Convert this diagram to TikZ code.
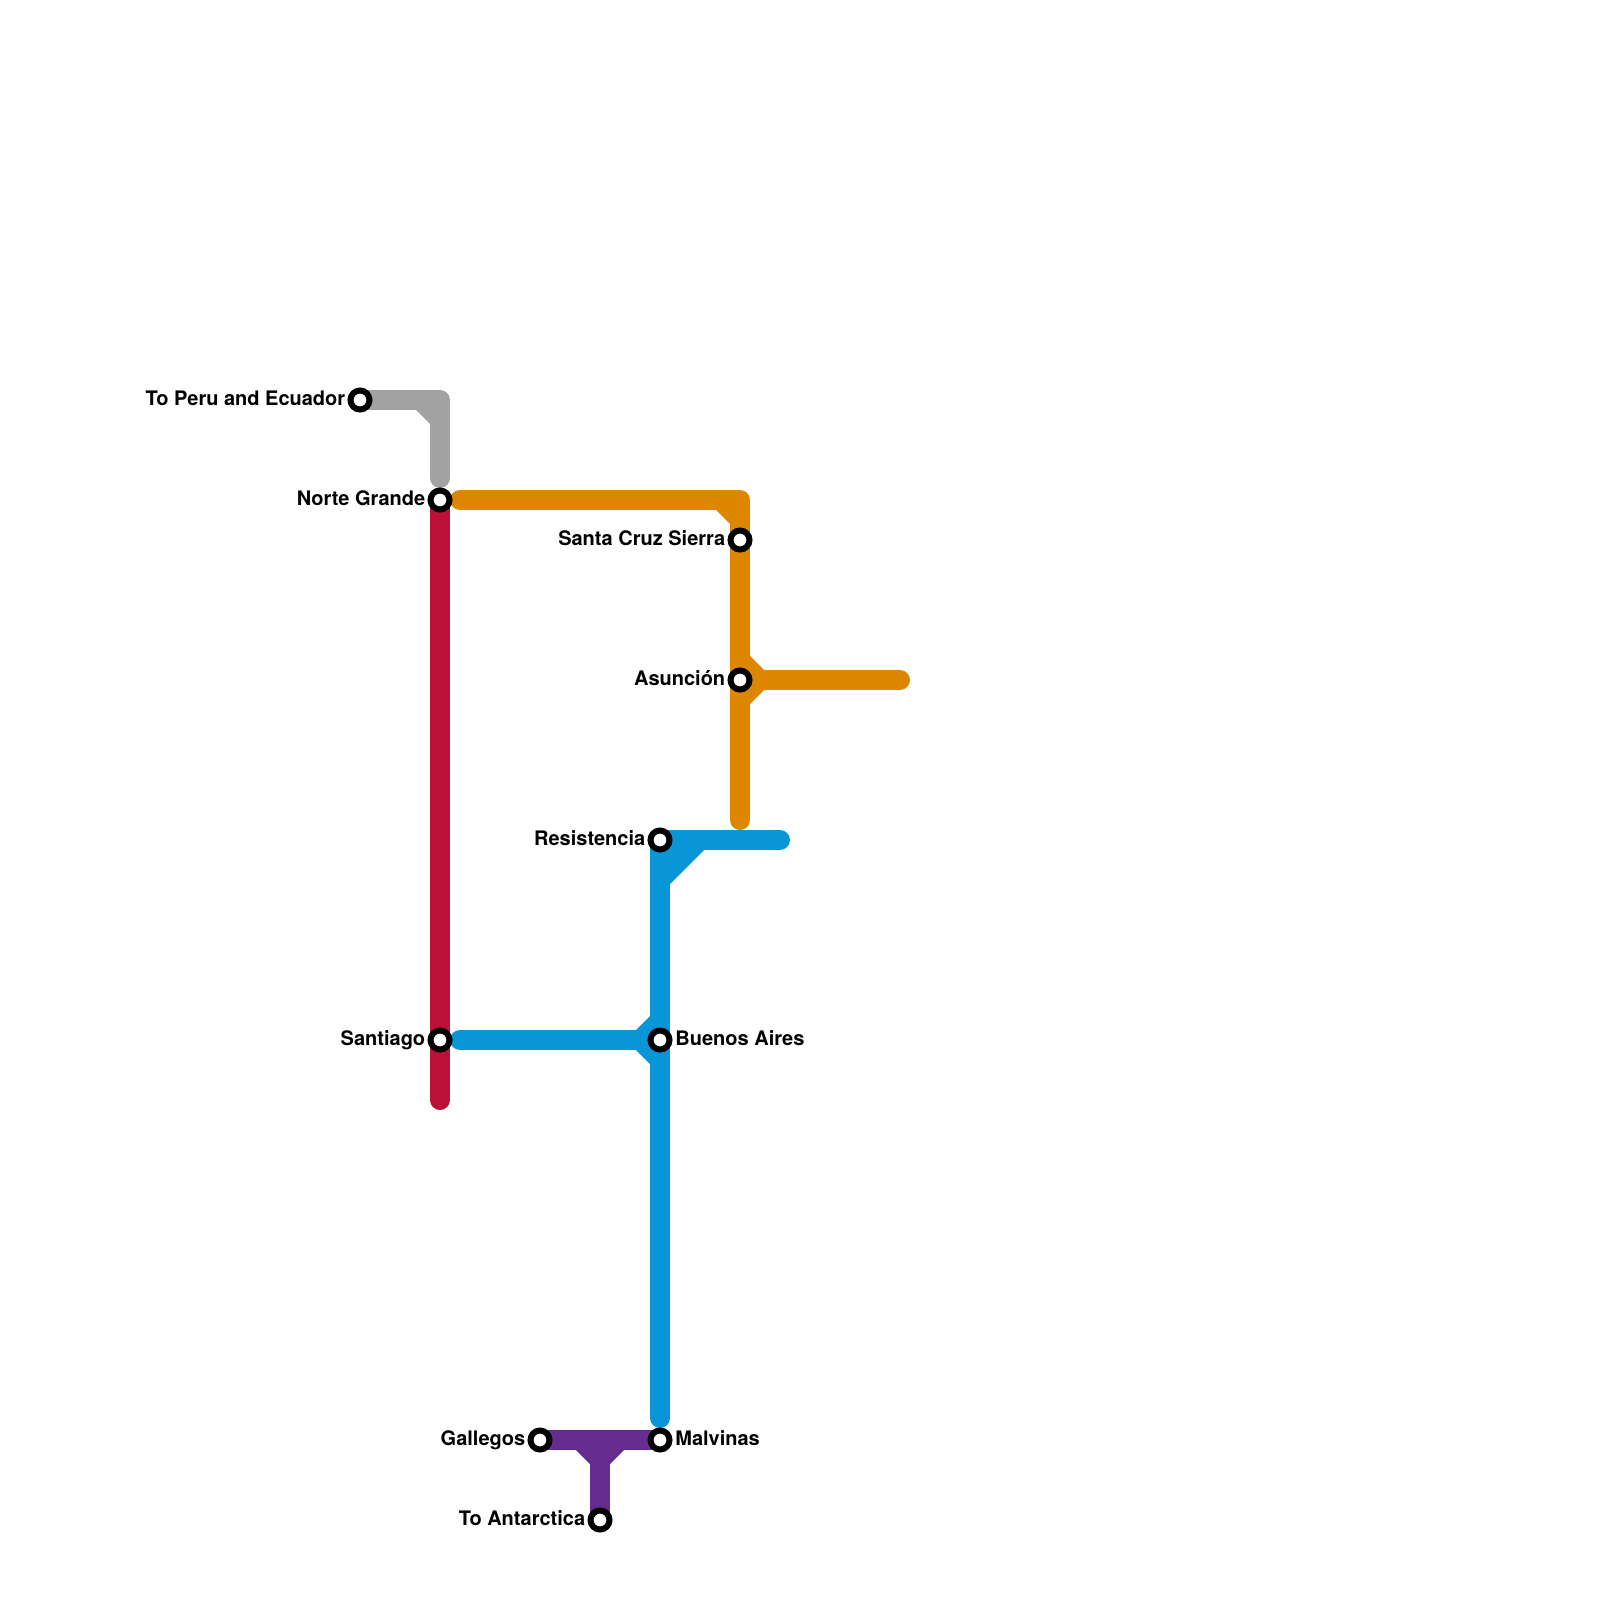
\documentclass[tikz,border=0pt]{standalone}
\usepackage{fontspec}
\setmainfont{TeX Gyre Heros}
\usetikzlibrary{positioning,backgrounds}
\tikzset{
  station/.style={circle, draw=black, fill=white, line width=3pt,
                  minimum size=9.5pt, inner sep=0},
  stationlabel/.style={font=\fontsize{10pt}{12pt}\selectfont\bfseries, text=black,
                  inner sep=0, text height=7.2pt, text depth=0pt, yshift=0.8pt},
  metroline/.style={line width=10pt, line cap=round, line join=round},
}
\definecolor{graycol}{HTML}{A2A2A2}
\definecolor{redcol}{HTML}{BD1038}
\definecolor{orangecol}{HTML}{DF8600}
\definecolor{bluecol}{HTML}{0896D7}
\definecolor{purplecol}{HTML}{662C90}
\begin{document}
\begin{tikzpicture}[x=0.5pt, y=-0.5pt]
    \useasboundingbox (0,0) rectangle (1600,1600);

    % === Stations ===
    \node[station] (peru)       at (360,400)  {};
    \node[station] (norte)      at (440,500)  {};
    \node[station] (santacruz)  at (740,540)  {};
    \node[station] (asuncion)   at (740,680)  {};
    \node[station] (resist)     at (660,840)  {};
    \node[station] (santiago)   at (440,1040) {};
    \node[station] (buenos)     at (660,1040) {};
    \node[station] (gallegos)   at (540,1440) {};
    \node[station] (malvinas)   at (660,1440) {};
    \node[station] (antarctica) at (600,1520) {};

    % === Labels ===
    \node[stationlabel, left=0.95pt of peru]       (lperu)       {To Peru and Ecuador};
    \node[stationlabel, left=0.95pt of norte]      (lnorte)      {Norte Grande};
    \node[stationlabel, left=0.95pt of santacruz]  (lsantacruz)  {Santa Cruz Sierra};
    \node[stationlabel, left=0.95pt of asuncion]   (lasuncion)   {Asunción};
    \node[stationlabel, left=0.95pt of resist]     (lresist)     {Resistencia};
    \node[stationlabel, left=0.95pt of santiago]   (lsantiago)   {Santiago};
    \node[stationlabel, right=1.25pt of buenos]    (lbuenos)     {Buenos Aires};
    \node[stationlabel, left=0.95pt of gallegos]   (lgallegos)   {Gallegos};
    \node[stationlabel, right=1.25pt of malvinas]  (lmalvinas)   {Malvinas};
    \node[stationlabel, left=0.95pt of antarctica] (lantarctica) {To Antarctica};

    % === Turns and free line ends ===
    \coordinate (grayturn)   at (440,400);
    \coordinate (grayend)    at (440,478);
    \coordinate (redend)     at (440,1100);
    \coordinate (orangeout)  at (460,500);
    \coordinate (orangeturn) at (740,500);
    \coordinate (orangeend)  at (740,820);
    \coordinate (orangeeast) at (900,680);
    \coordinate (blueeast)   at (780,840);
    \coordinate (blueend)    at (660,1418);
    \coordinate (bluewest)   at (460,1040);
    \coordinate (purplejoin) at (600,1440);

    \begin{scope}[on background layer]
      % === Lines ===
      \draw[metroline, graycol] (peru.center) -- (grayturn) -- (grayend);
      \draw[metroline, redcol] (norte.center) -- (redend);
      \draw[metroline, orangecol] (orangeout) -- (orangeturn) -- (orangeend);
      \draw[metroline, orangecol] (asuncion.center) -- (orangeeast);
      \draw[metroline, bluecol] (blueeast) -- (resist.center) -- (blueend);
      \draw[metroline, bluecol] (bluewest) -- (buenos.center);
      \draw[metroline, purplecol] (gallegos.center) -- (malvinas.center);
      \draw[metroline, purplecol] (purplejoin) -- (antarctica.center);

      % === Filled corners ===
      \foreach \col/\ax/\ay/\bx/\by/\cx/\cy in {
          graycol/432/408/416/410/430/424,
          orangecol/732/508/716/510/730/524,
          orangecol/748/672/764/670/750/656,
          orangecol/748/688/764/690/750/704,
          bluecol/668/848/704/850/670/884,
          bluecol/652/1032/636/1030/650/1016,
          bluecol/652/1048/636/1050/650/1064,
          purplecol/592/1448/576/1450/590/1464,
          purplecol/608/1448/624/1450/610/1464} {
        \fill[\col] (\ax,\ay) -- (\bx,\by) -- (\cx,\cy) -- cycle;
      }
    \end{scope}
\end{tikzpicture}
\end{document}
